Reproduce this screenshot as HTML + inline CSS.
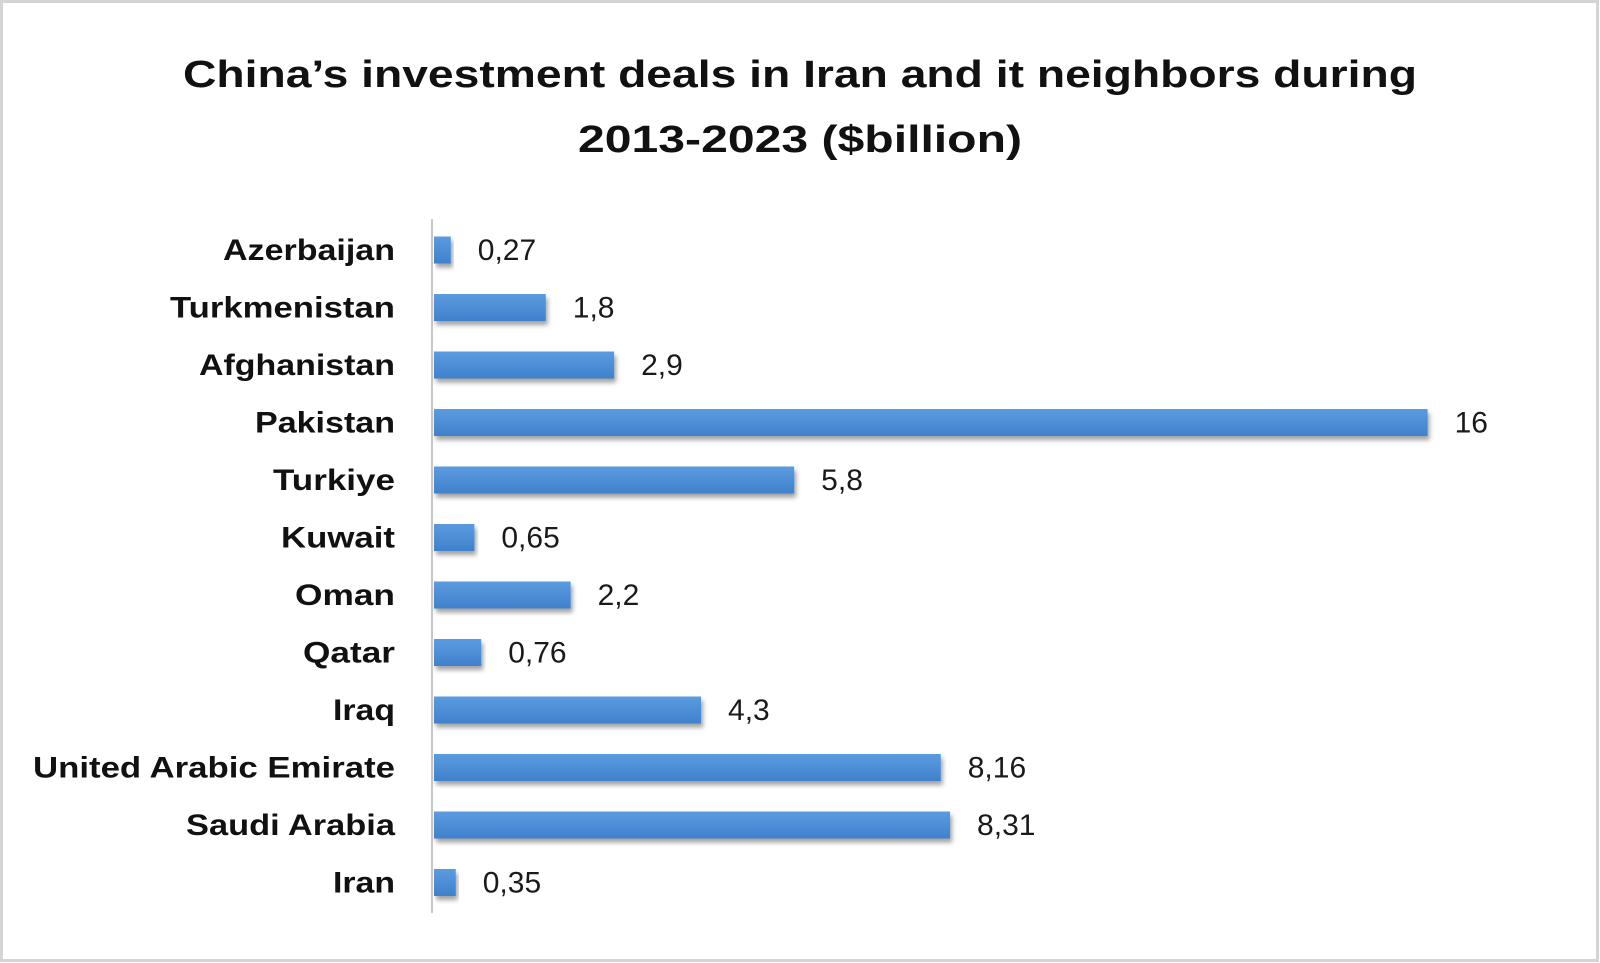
<!DOCTYPE html>
<html><head><meta charset="utf-8"><style>
html,body{margin:0;padding:0;background:#fff}
svg{display:block}
</style></head><body>
<svg width="1600" height="963" viewBox="0 0 1600 963" xmlns="http://www.w3.org/2000/svg">
<defs>
<linearGradient id="g" x1="0" y1="0" x2="0" y2="1">
<stop offset="0" stop-color="#5b9be0"/><stop offset="1" stop-color="#3f81cc"/>
</linearGradient>
<filter id="s" x="-5%" y="-50%" width="110%" height="200%"><feGaussianBlur stdDeviation="2.5"/></filter>
</defs>
<rect x="1.5" y="1.5" width="1596" height="959" fill="#fff" stroke="#d4d4d4" stroke-width="3"/>
<g font-family="Liberation Sans, sans-serif" font-weight="bold" fill="#111" font-size="38" text-anchor="middle">
<text x="800" y="87" textLength="1234" lengthAdjust="spacingAndGlyphs">China’s investment deals in Iran and it neighbors during</text>
<text x="800" y="152" textLength="444" lengthAdjust="spacingAndGlyphs">2013-2023 ($billion)</text>
</g>
<line x1="432" y1="219" x2="432" y2="913" stroke="#c8c8c8" stroke-width="2"/>
<g id="bars"></g>
<g font-family="Liberation Sans, sans-serif" font-size="29" fill="#1a1a1a">
<!-- generated statically below -->
</g>
<script>
(function(){
var d=[["Azerbaijan",0.27,"0,27",172],["Turkmenistan",1.8,"1,8",225],["Afghanistan",2.9,"2,9",196],["Pakistan",16,"16",140],["Turkiye",5.8,"5,8",122],["Kuwait",0.65,"0,65",114],["Oman",2.2,"2,2",100],["Qatar",0.76,"0,76",92],["Iraq",4.3,"4,3",62],["United Arabic Emirate",8.16,"8,16",362],["Saudi Arabia",8.31,"8,31",209],["Iran",0.35,"0,35",62]];
var ns="http://www.w3.org/2000/svg",svg=document.querySelector("svg");
function el(t,a,txt){var e=document.createElementNS(ns,t);for(var k in a)e.setAttribute(k,a[k]);if(txt)e.textContent=txt;svg.appendChild(e);return e;}
d.forEach(function(r,i){
 var cy=250+i*57.5,w=Math.max(r[1]*62.1,15),x=434;
 el("rect",{x:x+2,y:cy-13.5+4,width:w,height:27,fill:"#555",opacity:"0.55",filter:"url(#s)"});
 el("rect",{x:x,y:cy-13.5,width:w,height:27,fill:"url(#g)"});
 el("text",{x:x+w+27,y:cy+10,"font-family":"Liberation Sans, sans-serif","font-size":"30",fill:"#1a1a1a"},r[2]);
 el("text",{x:395,y:cy+10,"text-anchor":"end","font-family":"Liberation Sans, sans-serif","font-weight":"bold","font-size":"30",fill:"#111",textLength:r[3],lengthAdjust:"spacingAndGlyphs"},r[0]);
});
})();
</script>
</svg>
</body></html>
